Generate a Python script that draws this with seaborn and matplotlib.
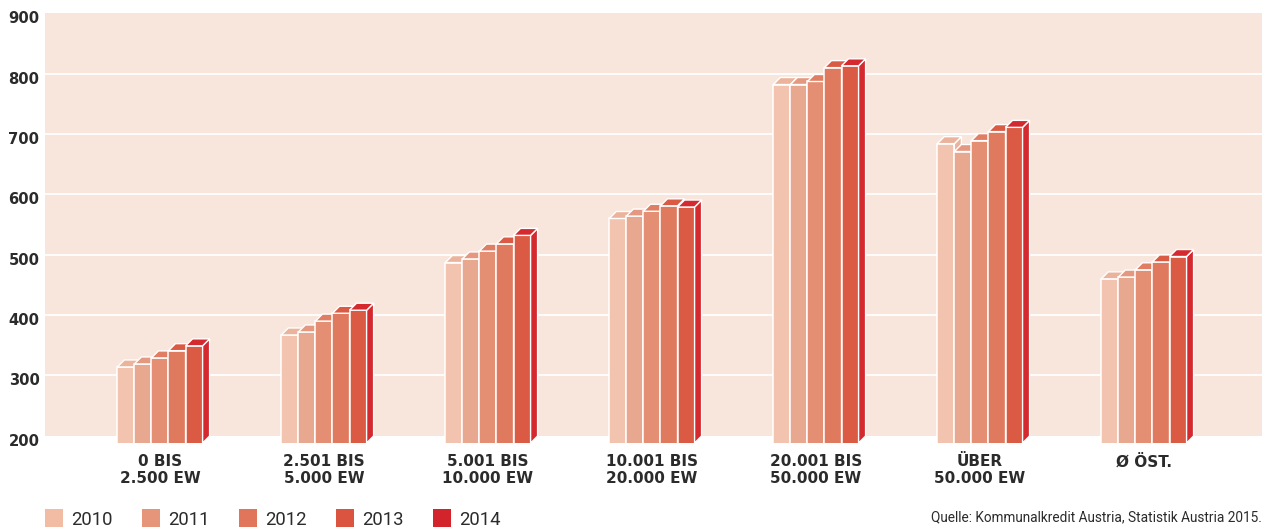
import matplotlib
matplotlib.use("Agg")
import matplotlib.pyplot as plt
from matplotlib.patches import Polygon, Rectangle
from matplotlib.transforms import ScaledTranslation
import pandas as pd
import seaborn as sns

# ---- data ----
groups = ["0 BIS\n2.500 EW", "2.501 BIS\n5.000 EW", "5.001 BIS\n10.000 EW",
          "10.001 BIS\n20.000 EW", "20.001 BIS\n50.000 EW", "ÜBER\n50.000 EW", "Ø ÖST."]
years = ["2010", "2011", "2012", "2013", "2014"]
v2010 = [314, 367, 487, 560, 782, 684, 460]
v2011 = [319, 372, 493, 564, 782, 671, 463]
v2012 = [329, 390, 506, 572, 787, 689, 475]
v2013 = [341, 403, 518, 581, 810, 704, 488]
v2014 = [349, 408, 532, 579, 813, 711, 497]
yticks = [200, 300, 400, 500, 600, 700, 800, 900]
source = "Quelle: Kommunalkredit Austria, Statistik Austria 2015."

# ---- styles ----
front_colors = ["#F2C4B0", "#E8A890", "#E48E74", "#E07A5E", "#DA5A44"]
top_colors = ["#EBB39C", "#E59880", "#E07E64", "#DA5A44", "#D42A2F"]
legend_colors = ["#F1BBA4", "#E6957B", "#E0755B", "#DA543F", "#D3242B"]
panel_color = "#F8E6DD"
text_color = "#2B2B2B"

df = pd.DataFrame({
    "group": groups * len(years),
    "year": [y for y in years for _ in groups],
    "value": v2010 + v2011 + v2012 + v2013 + v2014,
})

sns.set_theme(style="white")
plt.rcParams["font.family"] = ["DejaVu Sans"]

W, H = 1271, 529
fig = plt.figure(figsize=(W / 100, H / 100), dpi=100)
ax_l, ax_r, ax_t, ax_b = 45, 1262, 13.3, 443
ax = fig.add_axes([ax_l / W, 1 - ax_b / H, (ax_r - ax_l) / W, (ax_b - ax_t) / H])

y_low, y_high = 188, 900
x_low, x_high = -0.701, 6.72
ax.set_ylim(y_low, y_high)
ax.set_xlim(x_low, x_high)
ax.set_facecolor("white")

# tinted panel from 200 upward, white grid lines
ax.axhspan(200, 900, color=panel_color, zorder=0, lw=0)
for yv in yticks[1:-1]:
    ax.axhline(yv, color="white", lw=1.3, zorder=0.5)

sns.barplot(data=df, x="group", y="value", hue="year", order=groups,
            hue_order=years, palette=front_colors, width=0.52, gap=0,
            saturation=1, edgecolor="white", linewidth=1.1, legend=False,
            ax=ax)
ax.set_xlim(x_low, x_high)
ax.set_ylim(y_low, y_high)

# 3D depth: top and side faces
px_per_x = (ax_r - ax_l) / (x_high - x_low)
px_per_y = (ax_b - ax_t) / (y_high - y_low)
dx = 7 / px_per_x
dy = 7 / px_per_y

for i, cont in enumerate(ax.containers):
    for bar in cont:
        x, w, h = bar.get_x(), bar.get_width(), bar.get_height()
        z = 2 + i * 0.1
        bar.set_zorder(z)
        top = Polygon([(x, h), (x + w, h), (x + w + dx, h + dy), (x + dx, h + dy)],
                      closed=True, facecolor=top_colors[i], edgecolor="white",
                      lw=1.0, zorder=z + 0.05)
        side = Polygon([(x + w, h), (x + w + dx, h + dy), (x + w + dx, y_low + dy),
                        (x + w, y_low)],
                       closed=True, facecolor=top_colors[i], edgecolor="white",
                       lw=1.0, zorder=z + 0.04)
        ax.add_patch(side)
        ax.add_patch(top)

for s in ax.spines.values():
    s.set_visible(False)

ax.set_xlabel("")
ax.set_ylabel("")
ax.set_xticks(range(len(groups)))
ax.set_xticklabels(groups, fontsize=11, fontweight="bold", color=text_color,
                   linespacing=1.15)
ax.set_yticks(yticks)
ax.set_yticklabels([str(v) for v in yticks], fontsize=10.6, fontweight="bold",
                   color=text_color)
ax.tick_params(axis="x", length=0, pad=8)
ax.tick_params(axis="y", length=0, pad=4)
shift = ScaledTranslation(0, -4 / 100, fig.dpi_scale_trans)
for lab in ax.get_yticklabels():
    lab.set_transform(lab.get_transform() + shift)

# legend row
for i, (yr, col) in enumerate(zip(years, legend_colors)):
    x0 = 45 + 97 * i
    fig.patches.append(Rectangle((x0 / W, 1 - 527 / H), 18 / W, 18 / H,
                                 transform=fig.transFigure, facecolor=col,
                                 edgecolor="none", figure=fig))
    fig.text((x0 + 26) / W, 1 - 525 / H, yr, fontsize=13.3, family="Roboto",
             color=text_color, va="baseline", ha="left")

fig.text(1262 / W, 1 - 521 / H, source, fontsize=9.8, family="Roboto",
         color=text_color, ha="right", va="baseline")

fig.savefig("out.png", dpi=100)
